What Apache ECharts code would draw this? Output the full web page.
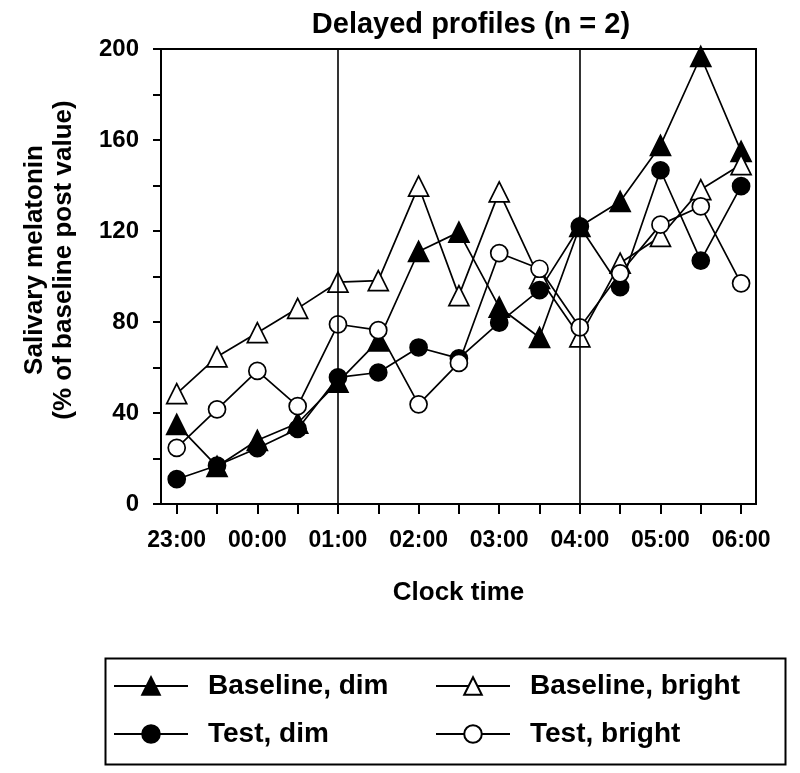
<!DOCTYPE html>
<html>
<head>
<meta charset="utf-8">
<script src="https://cdn.jsdelivr.net/npm/echarts@6/dist/echarts.min.js"></script>
<style>
html,body{margin:0;padding:0;background:#fff;}
#chart{width:800px;height:773px;}
</style>
</head>
<body>
<div id="chart"></div>
<script>
// Half-hour sampling times (index 0..14)
const times = ['23:00','23:30','00:00','00:30','01:00','01:30','02:00','02:30','03:00','03:30','04:00','04:30','05:00','05:30','06:00'];
const labelTimes = ['23:00','00:00','01:00','02:00','03:00','04:00','05:00','06:00'];
const baselineDim    = [35, 16.5, 28, 35.5, 53.6, 71.7, 111, 119.5, 86.5, 73.2, 122, 133, 157.6, 196.7, 155];
const baselineBright = [48.5, 64.7, 75.3, 86, 97.5, 98.2, 139.7, 91.6, 137.2, 99.2, 73.5, 105.9, 117.6, 138.2, 149.2];
const testDim        = [10.9, 16.9, 24.5, 33, 55.7, 57.8, 68.8, 64, 79.7, 94, 122, 95.3, 146.7, 107, 139.7];
const testBright     = [24.7, 41.6, 58.5, 43, 79, 76.4, 43.8, 62, 110.3, 103.4, 77.6, 101.4, 122.8, 130.8, 97];
const yTicks = [0, 40, 80, 120, 160, 200];
const markTimes = ['01:00', '04:00'];

const FONT = '"Liberation Sans", Arial, Helvetica, sans-serif';
const pairs = arr => arr.map((v, i) => [i, v]);
const tickIdx = times.map((t, i) => i);
const labelIdx = labelTimes.map(t => times.indexOf(t));

function mkSeries(name, data, symbol, filled, size) {
  return {
    name: name,
    type: 'line',
    data: pairs(data),
    symbol: symbol,
    symbolSize: size,
    showAllSymbol: true,
    lineStyle: { color: '#000', width: 1.7 },
    itemStyle: { color: filled ? '#000' : '#fff', borderColor: '#000', borderWidth: 1.7 },
    emphasis: { disabled: true },
    z: 3
  };
}

const series = [
  mkSeries('Baseline, dim', baselineDim, 'triangle', true, 20),
  mkSeries('Baseline, bright', baselineBright, 'triangle', false, 20),
  mkSeries('Test, dim', testDim, 'circle', true, 17),
  mkSeries('Test, bright', testBright, 'circle', false, 17)
];
series[0].markLine = {
  silent: true,
  symbol: 'none',
  label: { show: false },
  lineStyle: { color: '#000', width: 1.6, type: 'solid' },
  data: markTimes.map(t => ({ xAxis: times.indexOf(t) }))
};

const legendText = { fontFamily: FONT, fontWeight: 'bold', fontSize: 28, color: '#000', padding: [0, 0, 0, 15] };

const option = {
  animation: false,
  backgroundColor: '#fff',
  title: {
    text: 'Delayed profiles (n = 2)',
    left: 466, top: 5, textAlign: 'center',
    textStyle: { fontFamily: FONT, fontWeight: 'bold', fontSize: 29, color: '#000' }
  },
  grid: { left: 161, right: 44, top: 49, bottom: 269, show: true, borderColor: '#000', borderWidth: 2, backgroundColor: 'transparent' },
  xAxis: {
    type: 'value', min: -0.39, max: 14.37,
    splitLine: { show: false },
    axisLine: { show: true, onZero: false, lineStyle: { color: '#000', width: 2 } },
    axisTick: { show: true, length: 10, inside: false, lineStyle: { color: '#000', width: 2 }, customValues: tickIdx },
    axisLabel: {
      customValues: labelIdx,
      formatter: v => times[Math.round(v)],
      fontFamily: FONT, fontWeight: 'bold', fontSize: 23, color: '#000', margin: 25
    },
    name: 'Clock time', nameLocation: 'middle', nameGap: 76,
    nameTextStyle: { fontFamily: FONT, fontWeight: 'bold', fontSize: 26, color: '#000' }
  },
  yAxis: {
    type: 'value', min: 0, max: 200, interval: 40,
    splitLine: { show: false },
    axisLine: { show: true, onZero: false, lineStyle: { color: '#000', width: 2 } },
    axisTick: { show: true, length: 8, inside: false, lineStyle: { color: '#000', width: 2 } },
    minorTick: { show: true, splitNumber: 2, length: 8, lineStyle: { color: '#000', width: 2 } },
    axisLabel: { fontFamily: FONT, fontWeight: 'bold', fontSize: 24, color: '#000', margin: 22,
      formatter: v => yTicks.indexOf(v) >= 0 ? String(v) : '' }
  },
  legend: [
    {
      data: ['Baseline, dim', 'Test, dim'],
      orient: 'vertical', left: 108, top: 667,
      itemWidth: 74, itemHeight: 22, itemGap: 20,
      textStyle: legendText, selectedMode: false
    },
    {
      data: ['Baseline, bright', 'Test, bright'],
      orient: 'vertical', left: 430, top: 667,
      itemWidth: 74, itemHeight: 22, itemGap: 20,
      textStyle: legendText, selectedMode: false
    }
  ],
  graphic: [
    {
      type: 'rect', left: 103, top: 656, z: 0,
      shape: { width: 680, height: 106 },
      style: { fill: 'none', stroke: '#000', lineWidth: 2 }
    },
    {
      type: 'text', x: 49, y: 260, rotation: Math.PI / 2, z: 10,
      style: {
        text: 'Salivary melatonin\n(% of baseline post value)',
        fontFamily: FONT, fontWeight: 'bold', fontSize: 26, lineHeight: 29,
        fill: '#000', align: 'center', verticalAlign: 'middle'
      }
    }
  ],
  series: series
};

const chart = echarts.init(document.getElementById('chart'), null, { renderer: 'canvas' });
chart.setOption(option);
</script>
</body>
</html>
